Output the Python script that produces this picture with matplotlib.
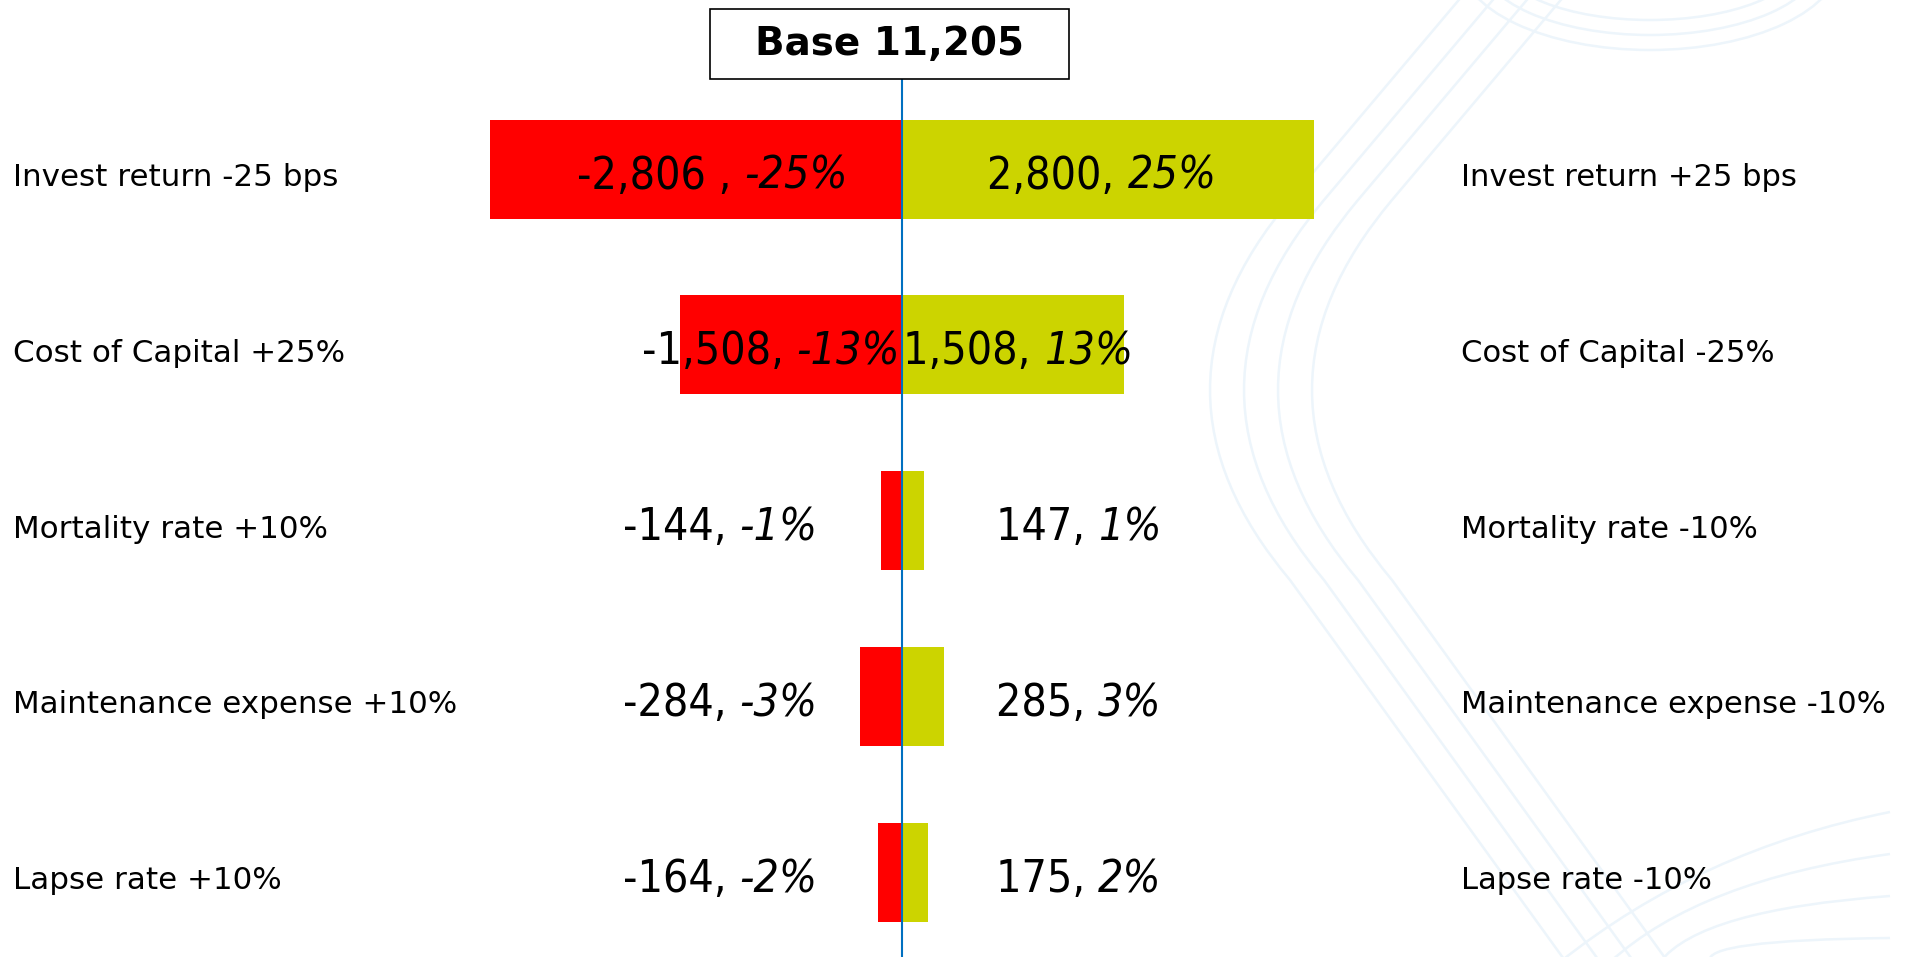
import matplotlib
matplotlib.use("Agg")
import matplotlib.pyplot as plt
from matplotlib import font_manager
from matplotlib.patches import Rectangle, Ellipse, PathPatch
from matplotlib.path import Path
from matplotlib.offsetbox import TextArea, HPacker, AnnotationBbox
import matplotlib.transforms as mtransforms

# ---------------- data ----------------
left_labels = ["Invest return -25 bps", "Cost of Capital +25%", "Mortality rate +10%",
               "Maintenance expense +10%", "Lapse rate +10%"]
right_labels = ["Invest return +25 bps", "Cost of Capital -25%", "Mortality rate -10%",
                "Maintenance expense -10%", "Lapse rate -10%"]
down_values = [-2806, -1508, -144, -284, -164]
up_values = [2800, 1508, 147, 285, 175]
down_pcts = ["-25%", "-13%", "-1%", "-3%", "-2%"]
up_pcts = ["25%", "13%", "1%", "3%", "2%"]
down_seps = [" , ", ", ", ", ", ", ", ", "]
up_seps = [", ", ", ", ", ", ", ", ", "]
base_value = 11205
label_modes = ["center", "base", "outside", "outside", "outside"]

# ---------------- style ----------------
W, H = 1912, 957
RED = "#FF0000"
GREEN = "#CCD400"
LINE_BLUE = "#0070C0"
DECO = "#edf5fb"
PX_PER_UNIT = 0.147
CENTER_PX = 902
ROW_PX = 175.9
ROW0_PX = 169
BAR_H = 99 / ROW_PX
OUT_LEFT = -(CENTER_PX - 817) / PX_PER_UNIT
OUT_RIGHT = (996 - CENTER_PX) / PX_PER_UNIT

names = {f.name for f in font_manager.fontManager.ttflist}
if "Liberation Sans Narrow" in names:
    VAL_FAMILY, VAL_SIZE, VAL_STRETCH = "Liberation Sans Narrow", 37, "normal"
elif any(f.name == "DejaVu Sans" and f.stretch == "condensed" for f in font_manager.fontManager.ttflist):
    VAL_FAMILY, VAL_SIZE, VAL_STRETCH = "DejaVu Sans", 32, "condensed"
else:
    VAL_FAMILY, VAL_SIZE, VAL_STRETCH = "DejaVu Sans", 28, "normal"

fig = plt.figure(figsize=(W / 100, H / 100), dpi=100)
fig.patch.set_facecolor("white")

# pixel transform (origin top-left) for the faint background decoration
pix = mtransforms.Affine2D().scale(1 / W, -1 / H).translate(0, 1) + fig.transFigure
for i in range(4):
    d = 34 * i
    verts = [(1463 + d, -5), (1290 + d, 200), (1130 + d, 390), (1290 + d, 580), (1566 + d, 962)]
    codes = [Path.MOVETO, Path.LINETO, Path.CURVE3, Path.CURVE3, Path.LINETO]
    fig.add_artist(PathPatch(Path(verts, codes), transform=pix, fill=False,
                             edgecolor=DECO, lw=1.8, zorder=0))
for i in range(3):
    fig.add_artist(Ellipse((1650, -40), 300 + 40 * i, 120 + 30 * i, transform=pix,
                           fill=False, edgecolor=DECO, lw=1.8, zorder=0))
for j in range(4):
    verts = [(1560 + 50 * j, 962), (1700, 850 + 30 * j), (1890, 812 + 42 * j)]
    codes = [Path.MOVETO, Path.CURVE3, Path.CURVE3]
    fig.add_artist(PathPatch(Path(verts, codes), transform=pix, fill=False,
                             edgecolor=DECO, lw=1.8, zorder=0))

ax = fig.add_axes([0, 0, 1, 1])
ax.set_facecolor("none")
ax.axis("off")
ax.set_xlim(-CENTER_PX / PX_PER_UNIT, (W - CENTER_PX) / PX_PER_UNIT)
y_top = -ROW0_PX / ROW_PX
y_bot = y_top + H / ROW_PX
ax.set_ylim(y_bot, y_top)

ys = list(range(len(left_labels)))
ax.barh(ys, down_values, height=BAR_H, color=RED, zorder=2)
ax.barh(ys, up_values, height=BAR_H, color=GREEN, zorder=2)
ax.axvline(0, ymin=0, ymax=1 - 79 / H, color=LINE_BLUE, lw=1.5, zorder=3)


def value_label(x, y, num, pct, align):
    tp = dict(fontsize=VAL_SIZE, family=VAL_FAMILY, fontstretch=VAL_STRETCH, color="black")
    tpi = dict(tp, style="italic")
    box = HPacker(children=[TextArea(num, textprops=tp), TextArea(pct, textprops=tpi)],
                  align="baseline", pad=0, sep=0)
    ab = AnnotationBbox(box, (x, y + 0.04), xycoords="data", frameon=False,
                        box_alignment=(align, 0.5), pad=0, zorder=4)
    ax.add_artist(ab)


for i, y in enumerate(ys):
    dv, uv = down_values[i], up_values[i]
    dnum = f"{dv:,}" + down_seps[i]
    unum = f"{uv:,}" + up_seps[i]
    mode = label_modes[i]
    if mode == "center":
        value_label(dv / 2 + 110, y, dnum, down_pcts[i], 0.5)
        value_label(uv / 2 - 40, y, unum, up_pcts[i], 0.5)
    elif mode == "base":
        value_label(-15, y, dnum, down_pcts[i], 1.0)
        value_label(10, y, unum, up_pcts[i], 0.0)
    else:
        value_label(OUT_LEFT, y, dnum, down_pcts[i], 1.0)
        value_label(OUT_RIGHT, y, unum, up_pcts[i], 0.0)

# category labels on both sides
tr = mtransforms.blended_transform_factory(ax.transAxes, ax.transData)
for i, y in enumerate(ys):
    ax.text(13 / W, y + 0.095, left_labels[i], transform=tr, ha="left", va="baseline",
            fontsize=22.3, family="DejaVu Sans", color="black")
    ax.text(1461 / W, y + 0.095, right_labels[i], transform=tr, ha="left", va="baseline",
            fontsize=22.1, family="DejaVu Sans", color="black")

# base box
fig.add_artist(Rectangle((710 / W, 1 - 79 / H), (1069 - 710) / W, (79 - 8.5) / H,
                         transform=fig.transFigure, facecolor="white", edgecolor="black",
                         lw=1.2, zorder=5))
fig.text(889.5 / W, 1 - 44 / H, f"Base {base_value:,}", ha="center", va="center",
         fontsize=28, fontweight="bold", family="DejaVu Sans", zorder=6)

fig.savefig("out.png", dpi=100, facecolor="white")
